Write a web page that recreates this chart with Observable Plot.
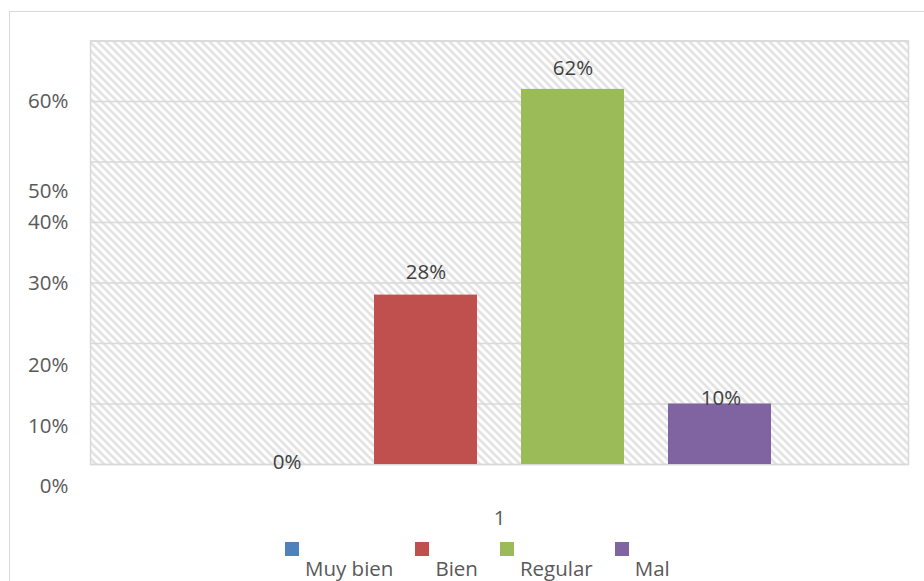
<!DOCTYPE html>
<html>
<head>
<meta charset="utf-8">
<script src="https://cdn.jsdelivr.net/npm/d3@7"></script>
<script src="https://cdn.jsdelivr.net/npm/@observablehq/plot@0.6"></script>
<style>
  html, body { margin: 0; padding: 0; background: #fff; }
  body { width: 924px; height: 581px; position: relative; overflow: hidden; font-family: "Open Sans", sans-serif; }
  #border { position: absolute; left: 9px; top: 11px; width: 940px; height: 600px; border: 1.5px solid #d9d9d9; box-sizing: border-box; }
  #chart { position: absolute; left: 0; top: 0; }
  #legend { position: absolute; left: 285px; top: 542px; display: flex; gap: 22px; color: #595959; font-size: 20.5px; line-height: 24px; }
  .item .swatch { width: 14px; height: 14px; }
  .item .name { margin-left: 20px; white-space: nowrap; display: block; }
</style>
</head>
<body>
<div id="border"></div>
<div id="chart"></div>
<div id="legend"></div>
<script>
// Survey answers for the single group "1"
const groups = ["1"];
const series = ["Muy bien", "Bien", "Regular", "Mal"];
const values = [0, 0.28, 0.62, 0.10];
const seriesColors = ["#4f81bd", "#c0504d", "#9bbb59", "#8064a2"];

// Left-hand tick labels and the value each one sits at
const yTickLabels = ["60%", "50%", "40%", "30%", "20%", "10%", "0%"];
const yTickAt = [0.6, 0.451, 0.4, 0.3, 0.163, 0.063, -0.036];

const rows = series.map((s, i) => ({group: groups[0], series: s, value: values[i]}));
const yTicks = yTickLabels.map((label, i) => ({label, at: yTickAt[i]}));

// Small per-series nudges for the value labels (pixels)
const labelNudge = {
  "Muy bien": {dx: 8, dy: -2},
  "Bien": {dx: 0, dy: -23},
  "Regular": {dx: 0, dy: -21},
  "Mal": {dx: 1, dy: -6}
};

const pct = d3.format(".0%");
const FONT = 20.5;

const valueLabels = series.map(s =>
  Plot.text(rows.filter(r => r.series === s), {
    fx: "group", x: "series", y: "value",
    text: d => pct(d.value),
    dx: labelNudge[s].dx, dy: labelNudge[s].dy,
    fontSize: FONT, fill: "#404040"
  })
);

const chart = Plot.plot({
  width: 924,
  height: 534,
  marginLeft: 90,
  marginRight: 16,
  marginTop: 40.5,
  marginBottom: 70,
  style: {fontFamily: "Open Sans, sans-serif", fontSize: FONT + "px", color: "#595959", background: "transparent"},
  fx: {domain: groups, padding: 0, axis: null},
  x: {domain: series, paddingInner: 0.3, paddingOuter: 0.932, axis: null},
  y: {domain: [0, 0.7], axis: null},
  color: {domain: series, range: seriesColors},
  marks: [
    Plot.frame({fill: "url(#hatch)", stroke: null}),
    Plot.gridY({interval: 0.1, stroke: "#d9d9d9", strokeOpacity: 1, strokeWidth: 1.5}),
    Plot.frame({stroke: "#d9d9d9", strokeWidth: 1.5}),
    Plot.barY(rows, {fx: "group", x: "series", y: "value", fill: "series"}),
    ...valueLabels,
    Plot.text(yTicks, {y: "at", text: "label", frameAnchor: "left", textAnchor: "end", dx: -22, fontSize: FONT, fill: "#595959"}),
    Plot.axisFx({anchor: "bottom", tickSize: 0, tickPadding: 46, label: null, fontSize: FONT})
  ]
});

// Diagonal hatch used as the plot-area background
const svg = d3.select(chart.tagName.toLowerCase() === "svg" ? chart : chart.querySelector("svg"));
const pattern = svg.insert("defs", ":first-child")
  .append("pattern")
  .attr("id", "hatch")
  .attr("patternUnits", "userSpaceOnUse")
  .attr("width", 8).attr("height", 8);
pattern.append("rect").attr("width", 8).attr("height", 8).attr("fill", "#ffffff");
pattern.append("path")
  .attr("d", "M0,0L8,8M-2,6L2,10M6,-2L10,2")
  .attr("stroke", "#e0e0e0")
  .attr("stroke-width", 2.6);

document.getElementById("chart").appendChild(chart);

// Legend: swatch on one line, name indented beneath it
const legend = d3.select("#legend");
series.forEach((s, i) => {
  const item = legend.append("div").attr("class", "item");
  item.append("div").attr("class", "swatch").style("background", seriesColors[i]);
  item.append("span").attr("class", "name").text(s);
});
</script>
</body>
</html>
